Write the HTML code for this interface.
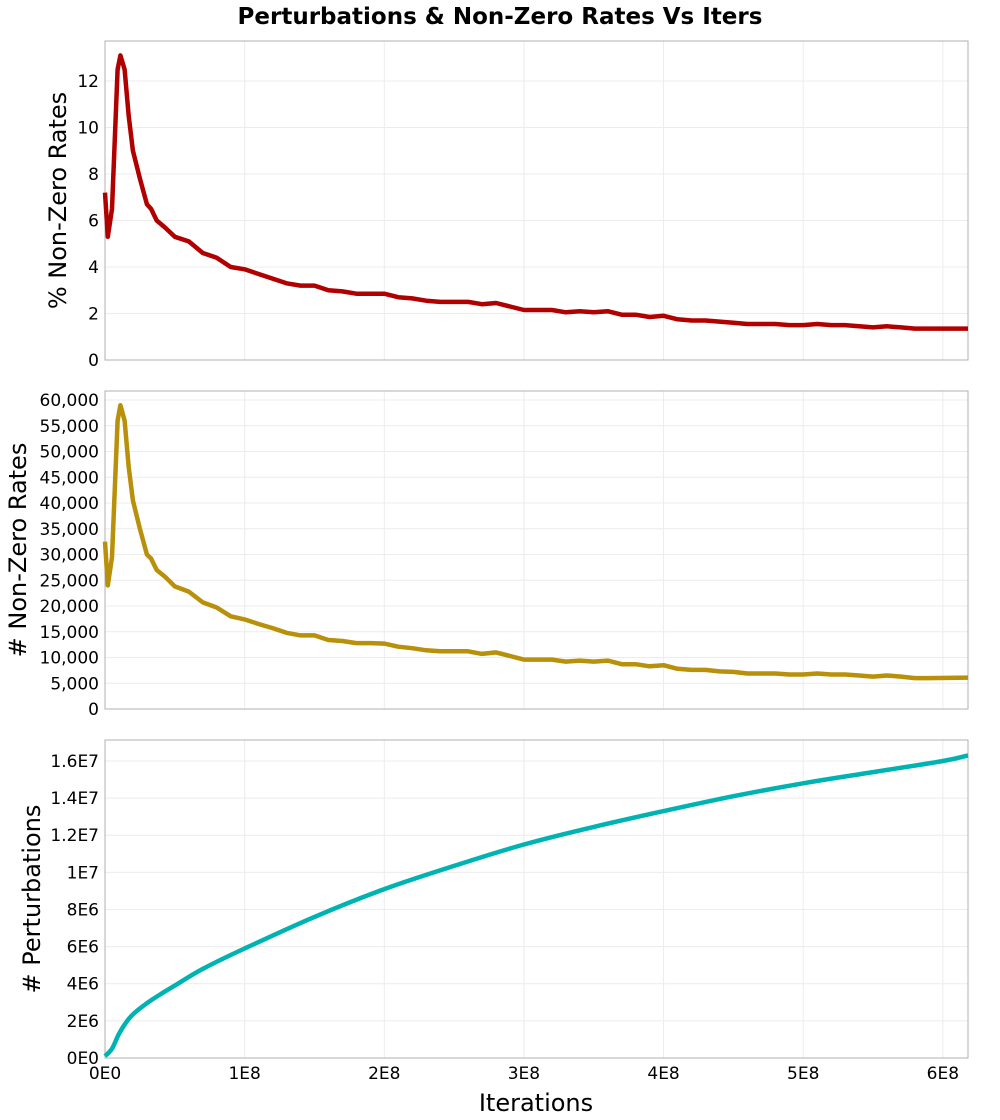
<!DOCTYPE html>
<html><head><meta charset="utf-8"><style>
body{margin:0;background:#fff;}
svg{display:block;font-family:"DejaVu Sans","Liberation Sans",sans-serif;}
</style></head><body>
<svg id="chart" width="1000" height="1120"></svg>
<script>
const iterX = [0,0.2e7,0.5e7,0.9e7,1.1e7,1.4e7,1.7e7,2.0e7,2.5e7,3.0e7,3.3e7,3.7e7,4.3e7,
5e7,6e7,7e7,8e7,9e7,10e7,11e7,12e7,13e7,14e7,15e7,16e7,17e7,18e7,19e7,20e7,21e7,22e7,23e7,24e7,25e7,26e7,27e7,28e7,29e7,30e7,31e7,32e7,33e7,34e7,35e7,36e7,37e7,38e7,39e7,40e7,41e7,42e7,43e7,44e7,45e7,46e7,47e7,48e7,49e7,50e7,51e7,52e7,53e7,54e7,55e7,56e7,57e7,58e7,59e7,61.8e7];
const pctNonZero = [7.2,5.3,6.5,12.5,13.1,12.5,10.5,9.0,7.8,6.7,6.5,6.0,5.7,
5.3,5.1,4.6,4.4,4.0,3.9,3.7,3.5,3.3,3.2,3.2,3.0,2.95,2.85,2.85,2.85,2.7,2.65,2.55,2.5,2.5,2.5,2.4,2.45,2.3,2.15,2.15,2.15,2.05,2.1,2.05,2.1,1.95,1.95,1.85,1.9,1.75,1.7,1.7,1.65,1.6,1.55,1.55,1.55,1.5,1.5,1.55,1.5,1.5,1.45,1.4,1.45,1.4,1.35,1.35,1.35];
const countNonZero = [32500,24000,29500,56000,59000,56000,47000,40500,35000,30000,29200,27000,25700,
23800,22800,20700,19700,18000,17400,16500,15700,14800,14300,14300,13400,13200,12800,12800,12700,12100,11800,11400,11200,11200,11200,10700,11000,10300,9600,9600,9600,9200,9400,9200,9400,8700,8700,8300,8500,7800,7600,7600,7300,7200,6900,6900,6900,6700,6700,6900,6700,6700,6500,6300,6500,6300,6000,6000,6100];
const pertX = [0,0.5e7,1e7,1.5e7,2e7,3e7,4e7,5e7,7e7,10e7,15e7,20e7,25e7,30e7,35e7,40e7,45e7,50e7,55e7,60e7,61.8e7];
const perturbations = [0.1e6,0.5e6,1.3e6,1.9e6,2.35e6,2.95e6,3.45e6,3.9e6,4.8e6,5.9e6,7.6e6,9.1e6,10.35e6,11.5e6,12.45e6,13.3e6,14.1e6,14.8e6,15.4e6,16.0e6,16.3e6];
const xTicks = [0,1e8,2e8,3e8,4e8,5e8,6e8];
const xTickLabels = ["0E0","1E8","2E8","3E8","4E8","5E8","6E8"];
const ticks1 = [0,2,4,6,8,10,12];
const ticks2 = [0,5000,10000,15000,20000,25000,30000,35000,40000,45000,50000,55000,60000];
const ticks3 = [0,2e6,4e6,6e6,8e6,10e6,12e6,14e6,16e6];
const ticks3Labels = ["0E0","2E6","4E6","6E6","8E6","1E7","1.2E7","1.4E7","1.6E7"];

const NS="http://www.w3.org/2000/svg";
const svg=document.getElementById('chart');
function mk(tag,attrs,parent){const e=document.createElementNS(NS,tag);for(const k in attrs)e.setAttribute(k,attrs[k]);(parent||svg).appendChild(e);return e;}
const L=105,R=968,XMAX=6.18e8;
const xs=v=>L+(v/XMAX)*(R-L);

const t=mk('text',{x:500,y:24,'text-anchor':'middle','font-size':23,'font-weight':'bold',fill:'#000'});
t.textContent="Perturbations & Non-Zero Rates Vs Iters";



function panel(name,top,bot,ymax,ticks,labels,xv,yv,color,title,titleX,showX,smooth){
  const g=mk('g',{});
  
  
  const ys=v=>bot-(v/ymax)*(bot-top);
  xTicks.forEach(v=>{const l=mk('line',{x1:xs(v),x2:xs(v),y1:top,y2:bot,stroke:'#ececec','stroke-width':1},g);
    });
  ticks.forEach((v,i)=>{const l=mk('line',{x1:L,x2:R,y1:ys(v),y2:ys(v),stroke:'#ececec','stroke-width':1},g);
    
    const tx=mk('text',{x:L-6,y:ys(v)+6,'text-anchor':'end','font-size':17,fill:'#000'},g);
    tx.textContent=labels[i];
    });
  const fr=mk('rect',{x:L,y:top,width:R-L,height:bot-top,fill:'none',stroke:'#b0b0b0','stroke-width':1},g);
  
  const pts=xv.map((x,i)=>[xs(x),ys(yv[i])]);
  let d='M'+pts[0][0].toFixed(1)+','+pts[0][1].toFixed(1);
  for(let i=1;i<pts.length;i++){
    if(smooth){
      const p0=pts[Math.max(0,i-2)],p1=pts[i-1],p2=pts[i],p3=pts[Math.min(pts.length-1,i+1)];
      const c1=[p1[0]+(p2[0]-p0[0])/6,p1[1]+(p2[1]-p0[1])/6],c2=[p2[0]-(p3[0]-p1[0])/6,p2[1]-(p3[1]-p1[1])/6];
      d+=` C${c1[0].toFixed(1)},${c1[1].toFixed(1)} ${c2[0].toFixed(1)},${c2[1].toFixed(1)} ${p2[0].toFixed(1)},${p2[1].toFixed(1)}`;
    } else d+=' L'+pts[i][0].toFixed(1)+','+pts[i][1].toFixed(1);
  }
  const p=mk('path',{d:d,fill:'none',stroke:color,'stroke-width':4.5,'stroke-linejoin':'round'},g);
  
  const cy=(top+bot)/2;
  const at=mk('text',{x:0,y:0,transform:`translate(${titleX},${cy}) rotate(-90)`,'text-anchor':'middle','font-size':24,fill:'#000'},g);
  at.textContent=title;
  
  if(showX){
    xTicks.forEach((v,i)=>{const tx=mk('text',{x:xs(v),y:bot+21,'text-anchor':'middle','font-size':17,fill:'#000'},g);
      tx.textContent=xTickLabels[i];
      });
    const xt=mk('text',{x:536,y:bot+53,'text-anchor':'middle','font-size':24,fill:'#000'},g);
    xt.textContent="Iterations";
    
  }
}
panel('pct-nonzero',41,360,13.72,ticks1,ticks1.map(String),iterX,pctNonZero,'#b00000','% Non-Zero Rates',66,false,false);
panel('count-nonzero',391,709,61750,ticks2,ticks2.map(v=>v.toLocaleString('en-US')),iterX,countNonZero,'#b8900a','# Non-Zero Rates',26,false,false);
panel('perturbations',740,1058,17.13e6,ticks3,ticks3Labels,pertX,perturbations,'#00b3b3','# Perturbations',40,true,true);
</script>
</body></html>
